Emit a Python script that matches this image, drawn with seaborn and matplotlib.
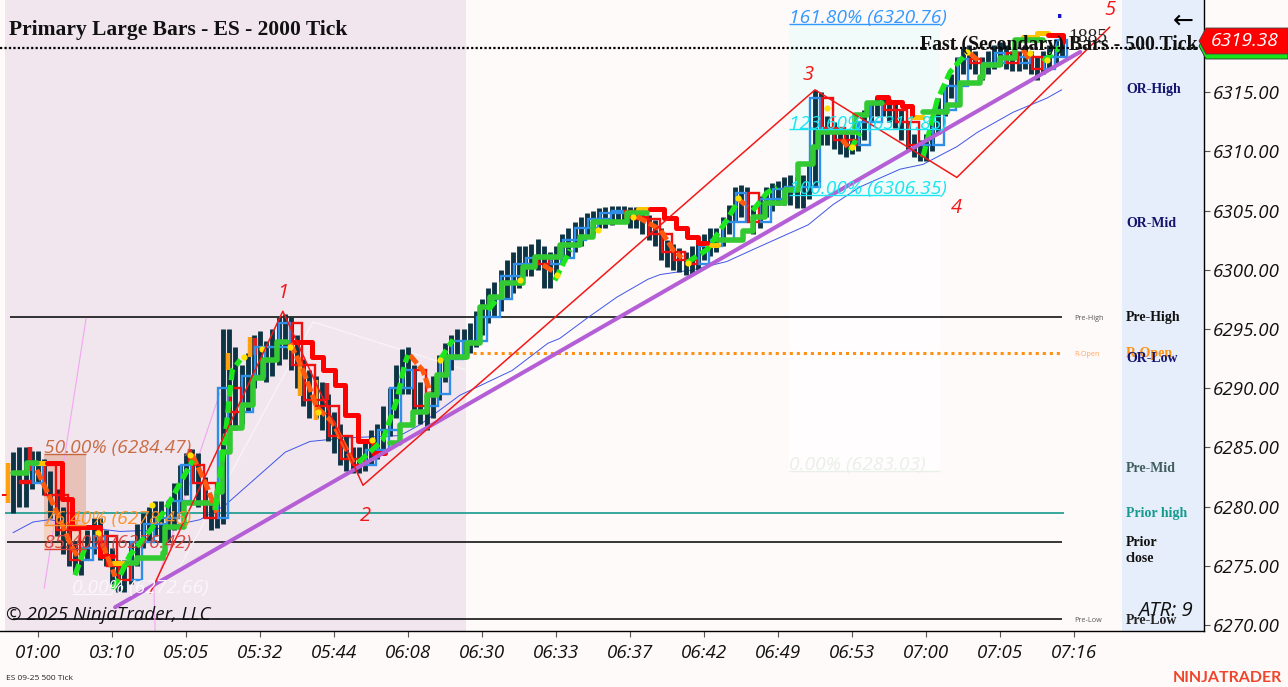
import numpy as np
import matplotlib
matplotlib.use("Agg")
import matplotlib.pyplot as plt
from matplotlib.patches import Polygon
import seaborn as sns

W, H = 1288, 687
BG = "#fffafa"

# ---- data -----------------------------------------------------------------
time_labels = ["01:00", "03:10", "05:05", "05:32", "05:44", "06:08", "06:30", "06:33",
               "06:37", "06:42", "06:49", "06:53", "07:00", "07:05", "07:16"]
price_ticks = [6270, 6275, 6280, 6285, 6290, 6295, 6300, 6305, 6310, 6315]
first_bar = -4
closes = [
    6282.2, 6281.5, 6282, 6283, 6283.5, 6282.5, 6281, 6279.5, 6278, 6277,
    6275.5, 6275, 6276.5, 6277.5, 6277.5, 6276.5, 6275, 6274, 6273.8, 6275.5,
    6277, 6278, 6278.5, 6279, 6279, 6279, 6280.5, 6282, 6283.5, 6284.5,
    6282, 6280, 6279, 6279, 6290, 6293, 6288, 6289, 6291, 6293,
    6293.5, 6292, 6293.5, 6295, 6295.5, 6293.5, 6292, 6290.5, 6289, 6289.5,
    6288.5, 6287.5, 6286, 6285, 6284, 6283.2, 6283.5, 6284, 6284.8, 6285.5,
    6286.5, 6288, 6290, 6292, 6291.5, 6290, 6288.5, 6288, 6289.5, 6291,
    6292.5, 6293.3, 6294, 6293.8, 6294, 6295, 6296, 6297, 6297.5, 6298.5,
    6299.5, 6300, 6300.5, 6300.8, 6301, 6301.5, 6300.5, 6300, 6301, 6302,
    6302.5, 6303, 6303.5, 6304, 6304.3, 6304.5, 6304.8, 6305, 6305, 6305,
    6304.5, 6304.8, 6304.3, 6303.5, 6303, 6302, 6301.5, 6301, 6300.8, 6300.2,
    6300.5, 6301.5, 6302, 6302.5, 6302.5, 6303, 6304, 6305.5, 6306.5, 6305.5,
    6304, 6305, 6306, 6306.3, 6306.8, 6307, 6307, 6306.5, 6307, 6308,
    6314.5, 6312, 6312, 6311.5, 6311, 6310.5, 6310.5, 6311.5, 6312.5, 6313.5,
    6314, 6314, 6313.5, 6313, 6312.5, 6311.5, 6310.5, 6310, 6310.5, 6312,
    6313.5, 6314.5, 6315.5, 6317, 6317.8, 6318, 6317.5, 6317, 6317.5, 6318,
    6318.3, 6318, 6317.5, 6317.5, 6318, 6317.5, 6317, 6317.5, 6318, 6318.5,
    6319.4]
highs = [
    6284.6, 6285, 6285, 6284.7, 6284.7, 6284, 6283, 6281.5, 6280, 6278.5,
    6277, 6276.5, 6278, 6279, 6279, 6278, 6276.5, 6275.5, 6275.5, 6277,
    6278.5, 6279.5, 6280, 6280.5, 6280.5, 6280.5, 6282, 6283.5, 6284.5, 6284.9,
    6284.5, 6282.5, 6280.5, 6280.5, 6295, 6295, 6293.5, 6292, 6293, 6294.5,
    6294.8, 6294, 6295, 6296, 6296.3, 6296, 6294.5, 6292.5, 6291.5, 6291,
    6290.5, 6289.5, 6288, 6287, 6286, 6285, 6285, 6285.5, 6286.5, 6287,
    6288.5, 6290, 6292, 6293.3, 6293.5, 6292, 6290.5, 6289.5, 6291, 6292.8,
    6293.8, 6294.5, 6295, 6295, 6295.5, 6296.5, 6297.5, 6298.5, 6299, 6300,
    6300.8, 6301.5, 6302, 6302, 6302.2, 6302.6, 6302, 6301.5, 6302, 6303,
    6303.5, 6304, 6304.5, 6304.8, 6305, 6305.2, 6305.3, 6305.4, 6305.4, 6305.4,
    6305.3, 6305.3, 6305.2, 6304.6, 6304.2, 6303.5, 6302.5, 6302.2, 6301.8, 6301.5,
    6302, 6302.5, 6303, 6303.5, 6303.5, 6304.5, 6305.5, 6307, 6307.2, 6307,
    6305.5, 6306.2, 6307, 6307.3, 6307.5, 6307.8, 6308, 6307.8, 6308, 6309,
    6315.2, 6315, 6313, 6312.5, 6312, 6311.5, 6311.5, 6312.5, 6313.5, 6314.2,
    6314.6, 6314.6, 6314.4, 6314, 6313.5, 6312.5, 6311.5, 6311, 6311.5, 6313,
    6314.5, 6315.5, 6316.5, 6318, 6318.7, 6319, 6318.5, 6318, 6318.5, 6319,
    6319.2, 6319, 6318.5, 6318.5, 6319, 6318.5, 6318, 6318.5, 6319, 6319.5,
    6319.8]
lows = [
    6279.5, 6280, 6280, 6281.5, 6282, 6281, 6279, 6277.5, 6276, 6275,
    6274.4, 6274.2, 6275.5, 6276, 6275.5, 6275, 6273.5, 6272.8, 6272.8, 6273.5,
    6275, 6276.5, 6277, 6277.5, 6277, 6277, 6278, 6279.5, 6281, 6282,
    6280, 6279, 6278, 6278.2, 6278.5, 6286, 6286.5, 6287, 6288, 6290,
    6291, 6290.5, 6291, 6292, 6292.5, 6291.5, 6290, 6288.5, 6287.5, 6287.5,
    6286.5, 6285.5, 6284.5, 6283.5, 6283, 6282.8, 6282.8, 6283, 6283.5, 6284,
    6284.5, 6286, 6287.5, 6289.5, 6289.5, 6288, 6287, 6286.5, 6287.5, 6289,
    6290.5, 6291.5, 6292.5, 6292.5, 6293, 6293.5, 6294.5, 6295.5, 6296, 6296.5,
    6297.5, 6298, 6298.5, 6299.5, 6299.5, 6300, 6298.5, 6298.5, 6299.5, 6300.5,
    6301, 6301.5, 6302, 6302.8, 6303, 6303.5, 6303.5, 6303.8, 6304, 6304,
    6303.5, 6303.5, 6303, 6302.5, 6302, 6300.8, 6300.2, 6300, 6299.8, 6299.6,
    6299.6, 6300, 6300.8, 6301.2, 6301.5, 6302, 6303, 6304, 6304.5, 6304,
    6303, 6303.5, 6304.5, 6305, 6305.5, 6305.5, 6305.5, 6305.2, 6305.2, 6306,
    6307, 6310.5, 6310.5, 6310.2, 6309.8, 6309.5, 6309.8, 6310, 6311, 6312.5,
    6313, 6313, 6312.5, 6312, 6311, 6310, 6309.5, 6309.2, 6309.2, 6310,
    6311.5, 6313, 6314.5, 6315.5, 6316.5, 6317, 6316.5, 6316, 6316.5, 6317,
    6317.2, 6317, 6316.8, 6316.8, 6317, 6316.5, 6316, 6316.5, 6317, 6317.5,
    6318]

orange_bars = [-4.8, 30.8, 34.4, 42.5, 45.0]
orange_low = [6280.3, 6291.5, 6292.6, 6289.3, 6287.3]
orange_high = [6283.7, 6293.0, 6294.3, 6292.6, 6290.7]
red_bars = [-1.3, 35.2, 46.9, 24.7]
red_low = [6283.0, 6292.8, 6289.0, 6283.8]
red_high = [6285.0, 6294.2, 6290.4, 6284.9]

ma_x = [-4.05, -0.8, 1.9, 8.4, 13.3, 18.2, 26.3, 30.3, 40.1, 44.1, 49.8, 58.7, 61.9, 68.4, 76.9,
        82.7, 84.6, 89, 93.9, 98.9, 100.9, 106.2, 111.7, 115.9, 124.9, 128.9, 133.3, 139.8,
        143.5, 149, 152.3, 158.1, 163.6, 166]
ma_y = [6277.8, 6278.7, 6278.9, 6278.2, 6277.9, 6278.0, 6278.9, 6280.1, 6284.6, 6285.5, 6285.8,
        6286.0, 6286.9, 6289.4, 6291.5, 6293.8, 6294.2, 6295.9, 6297.7, 6299.2, 6299.6, 6300,
        6300.7, 6301.7, 6303.8, 6305.5, 6307, 6308.5, 6308.9, 6310.4, 6311.6, 6313.3, 6314.5, 6315.2]

green_steps = [
    ([-4, -1.8, -0.2], [6282.8, 6283.7, 6283.7]),
    ([14.4, 16, 20.3, 20.6, 23.6, 29, 29.8, 31.1, 33, 34.9, 36.5, 38.7, 40.4],
     [6275.2, 6275.7, 6276.1, 6278.3, 6280.3, 6281.2, 6284.6, 6286.6, 6288.6, 6290.9, 6292.4, 6293.9, 6293.9]),
    ([57, 58.7, 60.8, 63, 64.7, 66.3, 69.5, 71.7, 73.3, 75.2, 78.6, 80.6, 84.6, 87.9, 90, 95.5, 98.8],
     [6285.4, 6286.9, 6288, 6289.4, 6291.1, 6292.6, 6293.8, 6296.9, 6297.7, 6298.9, 6300.2, 6301.1,
      6302.1, 6302.8, 6304, 6304.8, 6304.8]),
    ([110.1, 114.3, 115.9, 117.9, 121.1, 123.2, 125.7, 126.5, 129.6, 132.5, 134.4, 136.9],
     [6302.5, 6303.3, 6304.5, 6305.6, 6306.7, 6308.9, 6310.4, 6311.6, 6311.6, 6313.1, 6314.1, 6314.1]),
    ([143.5, 147.4, 149.5, 152.8, 153.2, 156, 158.4, 163],
     [6313.3, 6313.9, 6315.8, 6316.3, 6317.3, 6317.9, 6319.4, 6319.4]),
]
red_steps = [
    ([1.5, 3.9, 5.5, 7.9, 10.1, 12.2], [6283.7, 6280.6, 6278.3, 6278.3, 6275.8, 6275.8]),
    ([41.3, 44.4, 46.2, 48.2, 49.8, 51.9, 54.3, 56.3],
     [6293.9, 6292.6, 6291.5, 6290.3, 6287.7, 6285.5, 6284.5, 6284.5]),
    ([99.2, 101.5, 103.5, 105.2, 107, 108.5], [6305.1, 6304.4, 6303.5, 6302.8, 6302.3, 6302.3]),
    ([136, 137.8, 140.1, 141.7], [6314.6, 6314.2, 6313.8, 6313.1]),
    ([163.8, 166.2], [6319.8, 6319.2]),
]
gold_steps = [
    ([-0.2, 1.5], [6283.7, 6283.7]),
    ([12.2, 14.4], [6275.2, 6275.2]),
    ([97.3, 99.2], [6305.1, 6305.1]),
    ([108.5, 110.3], [6302.1, 6302.1]),
    ([141.7, 143.5], [6312.9, 6312.9]),
    ([159.7, 162, 163.8], [6319.7, 6320, 6320]),
]
green_dash = [
    ([6, 7.6], [6274.2, 6276.5]),
    ([12.2, 14.9, 18.2, 20.6, 25.1], [6273, 6275.9, 6278, 6279.7, 6283.9]),
    ([28.7, 30.3, 31.5, 32.8], [6279.7, 6285.6, 6291.5, 6292.4]),
    ([51.9, 55.9, 58.2, 59.5, 60], [6283.7, 6285.6, 6289, 6292.1, 6292.8]),
    ([65.2, 67.3], [6292.4, 6294.1]),
    ([73, 74.4], [6296.6, 6297.5]),
    ([83.8, 86.3], [6299.1, 6301.7]),
    ([105.2, 108.5, 111.7, 113.3], [6300.6, 6301.7, 6304.2, 6305.6]),
    ([115.9, 118.2, 119.8], [6305, 6306.5, 6307]),
    ([131.7, 133.3], [6310.1, 6311.6]),
    ([143.5, 145.8, 147.9, 150.6], [6309.5, 6314.3, 6316.7, 6318.3]),
    ([163, 165.7], [6317.6, 6318.8]),
]
orange_curves = [
    ([-0.2, 1.9, 3.6, 5.2, 6.5], [6283.1, 6280.8, 6278.9, 6276.9, 6275.7]),
    ([9.6, 12.5], [6278, 6274.1]),
    ([25, 27.4, 29], [6284.4, 6281.7, 6279.5]),
    ([40.9, 43, 45.2, 47.8, 51.1], [6293.8, 6291.5, 6288.4, 6287.1, 6283.7]),
    ([60.3, 62.4, 63.6], [6292.8, 6291.5, 6289.7]),
    ([81.9, 83.8], [6300.4, 6299.8]),
    ([97.1, 100.9, 103, 104.4], [6304.5, 6303.4, 6301.7, 6301]),
    ([113.3, 115.1], [6306.1, 6305.3]),
    ([130.4, 131.3], [6311, 6310.4]),
    ([151.1, 152.4], [6318.3, 6317.7]),
    ([159.7, 160.9], [6318.6, 6317.7]),
]
yellow_x = [33.4, 36.3, 40.9, 45.4, 54.2, 65.2, 18.5, 9.7, 24.6, 96.5, 84.2, 78.2, 105.4, 113.5,
            90.8, 127.9, 132, 163.6, 160.9, 150.6]
yellow_y = [6292.6, 6293.3, 6293.5, 6288, 6285.6, 6292.4, 6280.1, 6277.8, 6284.4, 6304.5, 6299.6,
            6299.1, 6300.6, 6306.1, 6303.4, 6313.7, 6310.4, 6317.7, 6318.3, 6318.4]

zigzag_x = [18.2, 39.7, 52.7, 126, 149, 173.8]
zigzag_y = [6272.7, 6296.5, 6281.8, 6315.2, 6307.8, 6320.5]
trend_x = [12.5, 169]
trend_y = [6271.5, 6318.4]
pink_a_x = [1, 7.8]
pink_a_y = [6273.1, 6295.9]
pink_b_x = [19, 18.8, 29.5]
pink_b_y = [6269.5, 6273, 6289.6]
white_x = [23, 44.6, 69.6]
white_y = [6274.9, 6295.6, 6291.5]

pre_high, r_open, prior_high, prior_close, pre_low = 6296.0, 6293.0, 6279.45, 6277.0, 6270.5
last_price = 6318.7
fib_left = [("50.00% (6284.47)", 6284.47, "#c8663c"),
            ("76.40% (6278.46)", 6278.46, "#ff9020"),
            ("85.40% (6276.42)", 6276.42, "#d9403a"),
            ]
fib_left_zero = ("0.00% (6272.66)", 6272.66, "#fbf6fb")
fib_right = [("161.80% (6320.76)", 6320.76, "#3399ff"),
             ("123.60% (6311.85)", 6311.85, "#19e6f0"),
             ("100.00% (6306.35)", 6306.35, "#19e6f0"),
             ("0.00% (6283.03)", 6283.03, "#e9efe9")]

# ---- figure -----------------------------------------------------------------
sns.set_theme(style="ticks", rc={"axes.facecolor": BG, "figure.facecolor": BG})
SANS = ["Open Sans", "DejaVu Sans"]
SERIF = ["Liberation Serif", "DejaVu Serif"]
fig = plt.figure(figsize=(W / 100, H / 100), dpi=100, facecolor=BG)
ax = fig.add_axes([0, 1 - 631 / H, 1204 / W, 631 / H])
ax.set_facecolor(BG)
PX = 6.1667
XMIN, XMAX = -38 / PX, (1204 - 38) / PX
YMIN, YMAX = 6270 - 6 / 11.84, 6270 + 625 / 11.84


def draw(xs, ys, color, lw, z, **kw):
    sns.lineplot(x=xs, y=ys, color=color, linewidth=lw, zorder=z, estimator=None, sort=False,
                 errorbar=None, legend=False, ax=ax, **kw)


def T(x, y, s, **kw):
    kw.setdefault("va", "center")
    kw.setdefault("family", SANS)
    return fig.text(x / W, 1 - y / H, s, **kw)


ax.axvspan(-5.35, 69.4, color="#f1e6ee", lw=0, zorder=0)
ax.axvspan(175.8, XMAX, color="#e6eefb", lw=0, zorder=0)
ax.axhspan(fib_left[1][1], fib_left[0][1], xmin=(1 - XMIN) / (XMAX - XMIN), xmax=(7.8 - XMIN) / (XMAX - XMIN),
           color="#e8c2b8", lw=0, zorder=1)
ax.axhspan(fib_left[2][1], fib_left[1][1], xmin=(1 - XMIN) / (XMAX - XMIN), xmax=(7.8 - XMIN) / (XMAX - XMIN),
           color="#f3d4c2", lw=0, zorder=1)
ax.axhspan(fib_right[2][1], fib_right[0][1], xmin=(121.8 - XMIN) / (XMAX - XMIN), xmax=(146.2 - XMIN) / (XMAX - XMIN),
           color="#f1fbfa", lw=0, zorder=1)
ax.axhspan(fib_right[3][1], fib_right[2][1], xmin=(121.8 - XMIN) / (XMAX - XMIN), xmax=(146.2 - XMIN) / (XMAX - XMIN),
           color="#fffdfd", lw=0, zorder=1)

ax.hlines(pre_high, -4.5, 166, color="black", lw=1.1, zorder=2)
ax.hlines(prior_close, -5, 166, color="black", lw=1.1, zorder=2)
ax.hlines(pre_low, -4, 166, color="black", lw=1.1, zorder=2)
ax.hlines(prior_high, -5.3, 166.3, color="#159a8c", lw=1.2, zorder=2)
ax.hlines(r_open, 69.4, 166, color="#ff9010", lw=2.2, linestyles=(0, (1, 1.3)), zorder=2)

draw(pink_a_x, pink_a_y, "#f2a6f2", 0.8, 3)
draw(pink_b_x, pink_b_y, "#f2a6f2", 0.8, 3)
draw(white_x, white_y, "#f9f5f9", 0.8, 3)
draw(ma_x, ma_y, "#3f55e8", 0.7, 3)

# candles
bar_x = np.arange(first_bar, first_bar + len(closes))
ax.vlines(bar_x, lows, highs, color="#0c3445", lw=3.5, zorder=4)
ax.vlines(orange_bars, orange_low, orange_high, color="#ffa010", lw=3.2, zorder=5)
ax.vlines(red_bars, red_low, red_high, color="#e02020", lw=3.2, zorder=5)

# secondary hollow candles, two primary bars each
c = np.array(closes)
hx, ho, hc = bar_x[2::2], c[:-2:2], c[2::2]
up = hc >= ho
ax.bar(hx[up], (hc - ho)[up], bottom=ho[up], width=1.7, fill=False, edgecolor="#2f8fe8", linewidth=1.7, zorder=6)
ax.bar(hx[~up], (hc - ho)[~up], bottom=ho[~up], width=1.7, fill=False, edgecolor="#f01010", linewidth=1.7, zorder=6)

for xs, ys in gold_steps:
    draw(xs, ys, "#ffc400", 3.6, 7, drawstyle="steps-post")
for xs, ys in red_steps:
    draw(xs, ys, "#ff0000", 3.6, 7, drawstyle="steps-post")
for xs, ys in green_steps:
    draw(xs, ys, "#33c933", 4.0, 8, drawstyle="steps-post")
for xs, ys in orange_curves:
    draw(xs, ys, "#ff5a10", 3.6, 9, linestyle=(0, (2.2, 0.6)))
for xs, ys in green_dash:
    draw(xs, ys, "#1ee61e", 3.8, 9, linestyle=(0, (2.2, 0.9)))
sns.scatterplot(x=yellow_x, y=yellow_y, color="#ffe000", s=20, linewidth=0, zorder=10, ax=ax)

draw(trend_x, trend_y, "#b45fd6", 2.9, 11)
draw(zigzag_x, zigzag_y, "#f21818", 1.1, 12)
ax.hlines(last_price, XMIN, XMAX, color="black", lw=1.6, linestyles=(0, (1, 1)), zorder=13)

# fib lines + labels
for (s, v, col), x0 in zip(fib_left, [1, 1, 1]):
    ax.hlines(v, 1, 7.8, color=col, lw=1.0, zorder=12)
    ax.annotate(s, (x0, v), xytext=(0, -2.5), textcoords="offset points", color=col, fontsize=13.9,
                style="italic", family=SANS, va="bottom", zorder=14, alpha=0.95)
s, v, col = fib_left_zero
ax.hlines(v, 5.5, 12, color=col, lw=1.0, zorder=12)
ax.annotate(s, (5.5, v), xytext=(0, -2.5), textcoords="offset points", color=col, fontsize=13.9,
            style="italic", family=SANS, va="bottom", zorder=14)
for s, v, col in fib_right:
    ax.hlines(v, 121.8, 146.2, color=col, lw=1.0, zorder=12)
    ax.annotate(s, (121.8, v), xytext=(0, -2.5), textcoords="offset points", color=col, fontsize=13.9,
                style="italic", family=SANS, va="bottom", zorder=14)

# axes
ax.set_xlim(XMIN, XMAX)
ax.set_ylim(YMIN, YMAX)
ax.set_xticks(np.arange(len(time_labels)) * 12)
ax.set_xticklabels(time_labels, style="italic", fontsize=13.5, family=SANS, color="#111111")
ax.yaxis.tick_right()
ax.set_yticks(price_ticks)
ax.set_yticklabels([f"{p:.2f}" for p in price_ticks], style="italic", fontsize=13.5, family=SANS,
                   color="#111111", va="center_baseline")
ax.tick_params(axis="x", length=4, width=0.8, color="#555555", pad=5.5)
ax.tick_params(axis="y", length=4, width=0.8, color="#555555", pad=2)
ax.spines["top"].set_visible(False)
ax.spines["left"].set_visible(False)
ax.spines["right"].set_visible(True)
ax.spines["right"].set_color("black")
ax.spines["bottom"].set_color("black")
ax.set_xlabel("")
ax.set_ylabel("")
for sp in ax.spines.values():
    sp.set_linewidth(1.0)
    sp.set_zorder(20)

# zigzag wave labels
for x, y, s in [(283, 293, "1"), (365, 516, "2"), (808, 75, "3"), (956, 208, "4"), (1110, 10, "5")]:
    T(x, y, s, color="#f21818", fontsize=14.5, style="italic", ha="center")

# texts
T(9, 30, "Primary Large Bars - ES - 2000 Tick", family=SERIF, weight="bold", fontsize=15.5, color="#111111")
T(920, 45, "Fast (Secondary) Bars - 500 Tick", family=SERIF, weight="bold", fontsize=14.3, color="#111111", zorder=20)
T(1068, 38, "1885", family=SERIF, fontsize=14, color="#222222", zorder=20)
T(1183, 21, "\u2190", family=["DejaVu Sans"], fontsize=18, color="black", ha="center")
T(6, 615, "\u00a9 2025 NinjaTrader, LLC", fontsize=13.5, style="italic", color="#111111", zorder=20)
T(1138, 611, "ATR: 9", fontsize=14.7, style="italic", color="#111111", zorder=20)
T(6, 678, "ES 09-25 500 Tick", fontsize=6, color="#222222")
T(1173, 678, "NINJATRADER", fontsize=11.5, weight="bold", color="#f0452a", family=["Lato", "DejaVu Sans"])

side = [("OR-High", 89, "#14146e"), ("OR-Mid", 224, "#14146e"), ("Pre-High", 318, "#111111"),
        ("R-Open", 353, "#ff9010"), ("OR-Low", 359, "#14146e"), ("Pre-Mid", 468, "#3f5e5e"),
        ("Prior high", 513, "#159a8c"), ("Prior", 543, "#111111"), ("close", 559, "#111111"),
        ("Pre-Low", 620, "#222222")]
for s, y, col in side:
    T(1126, y, s, family=SERIF, weight="bold", fontsize=10, color=col, zorder=20)
for s, y, col in [("Pre-High", 318, "#555555"), ("R-Open", 354, "#ffa860"), ("Pre-Low", 620, "#555555")]:
    T(1074, y, s, fontsize=5.2, color=col)

# last price marker and small dot
def P(pts):
    return [(x / W, 1 - y / H) for x, y in pts]


fig.add_artist(Polygon(P([(1199, 46), (1206, 34), (1288, 34), (1288, 59), (1206, 59)]), closed=True,
                       facecolor="#19e619", edgecolor="#333333", lw=0.6, zorder=21, transform=fig.transFigure))
fig.add_artist(Polygon(P([(1199, 41), (1206, 28), (1288, 28), (1288, 54), (1206, 54)]), closed=True,
                       facecolor="#ff0000", edgecolor="#444444", lw=0.6, zorder=22, transform=fig.transFigure))
T(1245, 41, "6319.38", color="white", fontsize=13.8, style="italic", ha="center", zorder=23)
T(1060, 18, "\u00b7", color="#1414c8", fontsize=14, ha="center", weight="bold", family=["DejaVu Sans"])
T(0, 495, "-", color="#f01010", fontsize=11, weight="bold", family=["DejaVu Sans"])

fig.savefig("out.png", dpi=100, facecolor=BG)
